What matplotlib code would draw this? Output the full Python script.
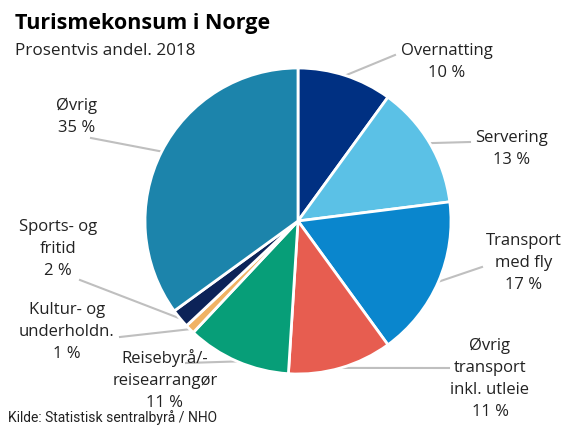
import numpy as np
import matplotlib
matplotlib.use("Agg")
import matplotlib.pyplot as plt

# data
categories = ["Overnatting", "Servering", "Transport\nmed fly", "Øvrig\ntransport\ninkl. utleie",
              "Reisebyrå/-\nreisearrangør", "Kultur- og\nunderholdn.", "Sports- og\nfritid", "Øvrig"]
shares = [10, 13, 17, 11, 11, 1, 2, 35]
colors = ["#003082", "#5bc1e6", "#0a86cd", "#e75d50", "#079e78", "#f0b264", "#0c2358", "#1c84ab"]

# label layout in pixels: text centre, and where the leader line leaves the text
label_pos = [(447, 62), (512, 149), (524, 263), (490, 379), (165, 380), (67, 332), (58, 249), (77, 117)]
line_start = [(395, 55), (470, 142), (482, 267), (449, 368), (186, 363), (120, 337), (80, 280), (91, 138)]

CX, CY, R = 298, 221, 153
W, H = 565, 428


def px(x, y):
    # pixel (from top-left) -> data coords with pie centre at 0,0 and radius 1
    return (x - CX) / R, (CY - y) / R


fig = plt.figure(figsize=(5.65, 4.28), dpi=100)
ax = fig.add_axes([0, 0, 1, 1])

wedges, _ = ax.pie(shares, colors=colors, startangle=90, counterclock=False, radius=1,
                   wedgeprops=dict(edgecolor="white", linewidth=2))
ax.set_xlim(-CX / R, (W - CX) / R)
ax.set_ylim((CY - H) / R, CY / R)
ax.axis("off")

font = "Open Sans"
for i, w in enumerate(wedges):
    mid = np.deg2rad((w.theta1 + w.theta2) / 2)
    wx, wy = np.cos(mid), np.sin(mid)
    sx, sy = px(*line_start[i])
    ax.plot([sx, wx], [sy, wy], color="#bfbfbf", lw=1.5, zorder=0)
    tx, ty = px(*label_pos[i])
    ax.text(tx, ty, categories[i] + "\n%d %%" % shares[i], ha="center", va="center",
            fontsize=12, family=font, color="#222222", linespacing=1.5)

fig.text(15 / W, 1 - 23 / H, "Turismekonsum i Norge", fontsize=15.5, fontweight="bold",
         family=font, va="center", ha="left", color="black")
fig.text(15 / W, 1 - 51 / H, "Prosentvis andel. 2018", fontsize=12.3, family=font,
         va="center", ha="left", color="#222222")
fig.text(8 / W, 1 - 418 / H, "Kilde: Statistisk sentralbyrå / NHO", fontsize=10,
         family="Roboto", va="center", ha="left", color="#222222")

fig.savefig("out.png", dpi=100)
